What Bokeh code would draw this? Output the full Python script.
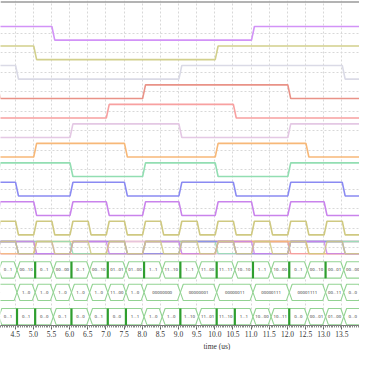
from bokeh.plotting import figure
from bokeh.models import (Range1d, SingleIntervalTicker, NumeralTickFormatter,
                          FixedTicker, Span, Title, Grid)
from bokeh.embed import file_html
from bokeh.resources import INLINE
from bokeh.core.properties import value

# ---------------- data ----------------
CLOCK_COLORS = ["#d293f7", "#d2d08c", "#dadae6", "#e99287", "#f8a0a0", "#e4c8e4",
                "#f7b878", "#92deb2", "#8a8af2", "#c983ec", "#cfc981"]
# level at the left of the view (1 = high, 0 = low)
CLOCK_START = [1, 1, 1, 1, 0, 0, 0, 0, 1, 0, 0]
# edge times (us)
CLK0 = [5.55, 11.05]
CLK1 = [5.05, 10.05]
CLK2 = [4.55, 9.05, 13.55]
CLK3 = [4.05, 8.05, 12.05]
CLK4 = [7.05, 10.55, 14.05]
CLK5 = [6.05, 9.05, 12.05]
CLK6 = [5.05, 7.55, 10.05, 12.55]
CLK7 = [4.05, 6.05, 8.05, 10.05, 12.05, 14.05]
CLK8 = [4.55, 6.05, 7.55, 9.05, 10.55, 12.05, 13.55]
CLK9 = [4.05, 5.05, 6.05, 7.05, 8.05, 9.05, 10.05, 11.05, 12.05, 13.05, 14.05]
CLK10 = [4.05, 4.55, 5.05, 5.55, 6.05, 6.55, 7.05, 7.55, 8.05, 8.55, 9.05, 9.55,
         10.05, 10.55, 11.05, 11.55, 12.05, 12.55, 13.05, 13.55, 14.05, 14.55]
CLOCK_EDGES = [CLK0, CLK1, CLK2, CLK3, CLK4, CLK5, CLK6, CLK7, CLK8, CLK9, CLK10]

BUS_A_BOUNDS = [4.05, 4.55, 5.05, 5.55, 6.05, 6.55, 7.05, 7.55, 8.05, 8.55, 9.05,
                9.55, 10.05, 10.55, 11.05, 11.55, 12.05, 12.55, 13.05, 13.55, 14.05, 14.55]
BUS_A_LABELS = ["0...1", "00...10", "0...1", "00...00", "0...1", "00...10", "01...01",
                "01...00", "1...1", "11...10", "1...1", "11...00", "11...11", "10...10",
                "1...1", "10...00", "0...1", "00...10", "00...01", "00...00", "0...1"]
BUS_A_GLITCH = [5.05, 6.05, 7.05, 8.05, 9.05, 10.05, 11.05, 12.05, 13.05, 14.05]

BUS_B_BOUNDS = [3.05, 4.55, 5.05, 5.55, 6.05, 6.55, 7.05, 7.55, 8.05, 9.05, 10.05,
                11.05, 12.05, 13.05, 13.55, 14.05, 15.05]
BUS_B_LABELS = ["1...0", "1...0", "1...0", "1...0", "1...0", "1...0", "11...00", "1...0",
                "00000000", "00000001", "00000011", "00000111", "00001111", "00...11",
                "0...0", "00...00"]
BUS_B_GLITCH = []

BUS_C_BOUNDS = BUS_A_BOUNDS
BUS_C_LABELS = ["0...1", "0...1", "0...0", "0...1", "0...0", "0...1", "0...0", "1...1",
                "1...0", "1...0", "1...10", "11...01", "11...10", "1...1", "10...00",
                "10...11", "0...0", "00...01", "01...00", "0...0", "1...1"]
BUS_C_GLITCH = [4.55, 5.05, 6.05, 7.05, 7.55, 9.05, 10.05, 10.55, 12.05, 14.05]

X_LABEL = "time (us)"

# ---------------- layout constants ----------------
FRAME_H = 327          # expected frame height in px (figure 350 minus axis panel)
X_VIEW = (4.095, 13.985)
Y_VIEW = (-(FRAME_H - 33) / 19.6, 33 / 19.6)
CLOCK_ROWS = [0, -1, -2, -3, -4, -5, -6, -7, -8, -9, -10]
CLOCK_HALF = 0.35
OVERLAY_ROW = -11.0
OVERLAY_HALF = 0.31
BUS_ROWS = [-12.15, -13.3, -14.55]
BUS_HALF = 0.42
RAMP = 0.04
SLANT = 0.08
T_LEFT, T_RIGHT = 3.8, 14.8

p = figure(width=359, height=350,
           x_range=Range1d(*X_VIEW), y_range=Range1d(*Y_VIEW),
           output_backend="svg", toolbar_location=None, y_axis_location=None,
           min_border_left=0, min_border_right=0, min_border_top=0, min_border_bottom=0,
           outline_line_color=None, background_fill_color="white")

# grids
p.xaxis.ticker = SingleIntervalTicker(interval=0.5, num_minor_ticks=10)
p.xgrid.grid_line_color = "#d8d8d8"
p.xgrid.grid_line_dash = "2 2"
p.ygrid.visible = False
all_rows = CLOCK_ROWS + [OVERLAY_ROW] + BUS_ROWS
p.add_layout(Grid(dimension=1, ticker=FixedTicker(ticks=all_rows),
                  grid_line_color="#d8d8d8", grid_line_dash="2 2"))

p.add_layout(Span(location=Y_VIEW[1] - 0.077, dimension="width",
                  line_color="#9a9a9a", line_width=1.5))


def wave(start, edges, center, half):
    lvl = start
    xs = [T_LEFT]
    ys = [center + half if lvl else center - half]
    for e in edges:
        xs += [e - RAMP, e + RAMP]
        ys += [center + half if lvl else center - half,
               center - half if lvl else center + half]
        lvl = 1 - lvl
    xs.append(T_RIGHT)
    ys.append(center + half if lvl else center - half)
    return xs, ys


# individual clock rows
for i, (col, st, ed) in enumerate(zip(CLOCK_COLORS, CLOCK_START, CLOCK_EDGES)):
    xs, ys = wave(st, ed, CLOCK_ROWS[i], CLOCK_HALF)
    p.line(xs, ys, line_color=col, line_width=1.6)

# overlay row of all clocks
for col, st, ed in zip(CLOCK_COLORS, CLOCK_START, CLOCK_EDGES):
    xs, ys = wave(st, ed, OVERLAY_ROW, OVERLAY_HALF)
    p.line(xs, ys, line_color=col, line_width=1.4, line_alpha=0.85)


def bus(bounds, labels, glitch, center):
    pxs, pys, tx, ty, tt = [], [], [], [], []
    for a, b, lab in zip(bounds[:-1], bounds[1:], labels):
        dl = 0 if a in glitch else SLANT
        dr = 0 if b in glitch else SLANT
        pxs.append([a, a + dl, b - dr, b, b - dr, a + dl])
        pys.append([center, center + BUS_HALF, center + BUS_HALF, center,
                    center - BUS_HALF, center - BUS_HALF])
        mid = (a + b) / 2
        # only label segments whose text fits inside the visible window
        if X_VIEW[0] + 0.18 < mid < X_VIEW[1] - 0.17:
            tx.append(mid)
            ty.append(center)
            tt.append(lab)
    p.patches(pxs, pys, fill_color="white", line_color="#93d393", line_width=1.1)
    if glitch:
        p.segment(x0=glitch, y0=[center - BUS_HALF] * len(glitch),
                  x1=glitch, y1=[center + BUS_HALF] * len(glitch),
                  line_color="#2f9e2f", line_width=2.2)
    p.text(x=tx, y=ty, text=tt, text_align="center", text_baseline="middle",
           text_font=value("Roboto"), text_font_size="4.4px", text_color="#444444")


bus(BUS_A_BOUNDS, BUS_A_LABELS, BUS_A_GLITCH, BUS_ROWS[0])
bus(BUS_B_BOUNDS, BUS_B_LABELS, BUS_B_GLITCH, BUS_ROWS[1])
bus(BUS_C_BOUNDS, BUS_C_LABELS, BUS_C_GLITCH, BUS_ROWS[2])

# x axis
ax = p.xaxis[0]
ax.formatter = NumeralTickFormatter(format="0.0")
ax.axis_line_color = "#777777"
ax.major_tick_line_color = "#666666"
ax.minor_tick_line_color = "#888888"
ax.major_tick_out = 4
ax.major_tick_in = 0
ax.minor_tick_out = 2
ax.minor_tick_in = 0
ax.major_label_standoff = 1
ax.major_label_text_font = "Liberation Serif"
ax.major_label_text_font_size = "7.5px"
ax.major_label_text_color = "#333333"

# x-axis title under the tick labels, shifted to the right like the original
p.add_layout(Title(text=X_LABEL, align="left", offset=203, standoff=0,
                   text_font="Liberation Serif", text_font_size="7.5px",
                   text_font_style="normal", text_color="#333333"), "below")

open("out.html", "w").write(file_html(p, INLINE))
